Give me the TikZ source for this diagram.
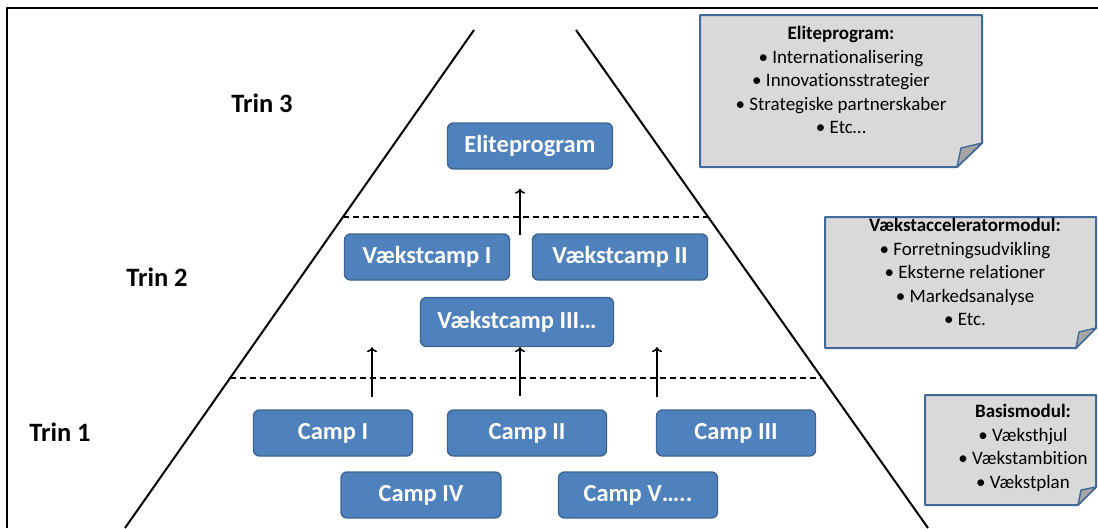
\documentclass[tikz,border=0pt]{standalone}
\usepackage{fontspec}
\setmainfont{Carlito}[Ligatures=NoCommon]
\usepackage{tikz}
\usetikzlibrary{arrows.meta}
\usetikzlibrary{positioning,calc}

\begin{document}
\begin{tikzpicture}[x=1pt, y=-1pt, line join=round,
  camp/.style={draw=campedge, fill=campblue, rounded corners=6pt, line width=1.4pt,
    text=white, font=\bfseries\fontsize{24.5}{27}\selectfont, minimum height=46pt, inner sep=0pt},
  trin/.style={font=\bfseries\fontsize{26.5}{29}\selectfont, inner sep=0pt},
  notetext/.style={align=center, font=\fontsize{19}{23.5}\selectfont, inner sep=0pt},
  notebox/.style={draw=noteedge, fill=notegray, line width=2pt},
  fold/.style={draw=noteedge, fill=foldgray, line width=1.4pt},
  uparrow/.style={-{To[length=5pt,width=10pt]}, line width=1.6pt}]

\definecolor{campblue}{HTML}{4F81BD}
\definecolor{campedge}{HTML}{3D6594}
\definecolor{notegray}{HTML}{D9D9D9}
\definecolor{noteedge}{HTML}{41699A}
\definecolor{foldgray}{HTML}{A6A6A6}

\useasboundingbox (0,0) rectangle (1098,528);

% frame
\draw[line width=2.4pt] (7,528)--(7,8)--(1098,8);

% pyramid
\coordinate (apexL) at (474,30);
\coordinate (baseL) at (125,528);
\coordinate (apexR) at (576,30);
\coordinate (baseR) at (928,528);
\draw[line width=2pt] (apexL)--(baseL);
\draw[line width=2pt] (apexR)--(baseR);

\draw[dash pattern=on 6pt off 4pt, line width=1.3pt]
  ($(apexL)!0.3755!(baseL)$)--($(apexR)!0.3755!(baseR)$);
\draw[dash pattern=on 6pt off 4pt, line width=1.3pt]
  ($(apexL)!0.6988!(baseL)$)--($(apexR)!0.6988!(baseR)$);

% levels
\node[trin] (trin3) at (262,103) {Trin 3};
\node[trin] (trin2) at (157,277) {Trin 2};
\node[trin] (trin1) at (60,432) {Trin 1};

% boxes
\node[camp, minimum width=165pt] (elite) at (530,146) {Eliteprogram};
\node[camp, minimum width=165pt] (vc1) at (427,257) {Vækstcamp I};
\node[camp, minimum width=175pt] (vc2) at (620,257) {Vækstcamp II};
\node[camp, minimum width=193pt, minimum height=49pt] (vc3) at (517,322) {Vækstcamp III\dots};

\node[camp, minimum width=159pt] (camp1) at (333,433) {Camp I};
\node[camp, minimum width=159pt] (camp2) at (527,433) {Camp II};
\node[camp, minimum width=159pt] (camp3) at (736,433) {Camp III};
\node[camp, minimum width=160pt] (camp4) at (421,495) {Camp IV};
\node[camp, minimum width=159pt] (camp5) at (638,495) {Camp V\dots..};

% arrows
\coordinate (up1) at (372,397);
\coordinate (up3) at (657,397);
\coordinate (upvc) at (520,235);
\draw[uparrow] (up1) -- (up1 |- vc3.south);
\draw[uparrow, shorten <=13pt] (camp2.north -| upvc) -- (upvc |- vc3.south);
\draw[uparrow] (up3) -- (up3 |- vc3.south);
\draw[uparrow, shorten >=19pt] (upvc) -- (upvc |- elite.south);

% notes
\draw[notebox] (700,15)--(982,15)--(982,143)--(957,167)--(700,167)--cycle;
\draw[fold] (982,143)--(957,167)--(961,148)--cycle;
\node[notetext] (noteelite) at (841,80) {\textbf{Eliteprogram:}\\ \textbullet{} Internationalisering\\ \textbullet{} Innovationsstrategier\\ \textbullet{} Strategiske partnerskaber\\ \textbullet{} Etc\dots};

\draw[notebox] (825,217)--(1096,217)--(1096,328)--(1076,348)--(825,348)--cycle;
\draw[fold] (1096,328)--(1076,348)--(1079,332)--cycle;
\node[notetext] (notevaekst) at (965,272) {\textbf{Vækstacceleratormodul:}\\ \textbullet{} Forretningsudvikling\\ \textbullet{} Eksterne relationer\\ \textbullet{} Markedsanalyse\\ \textbullet{} Etc.};

\draw[notebox] (925,395)--(1096,395)--(1096,487)--(1078,505)--(925,505)--cycle;
\draw[fold] (1096,487)--(1078,505)--(1081,490)--cycle;
\node[notetext] (notebasis) at (1023,448) {\textbf{Basismodul:}\\ \textbullet{} Væksthjul\\ \textbullet{} Vækstambition\\ \textbullet{} Vækstplan};

\end{tikzpicture}
\end{document}
